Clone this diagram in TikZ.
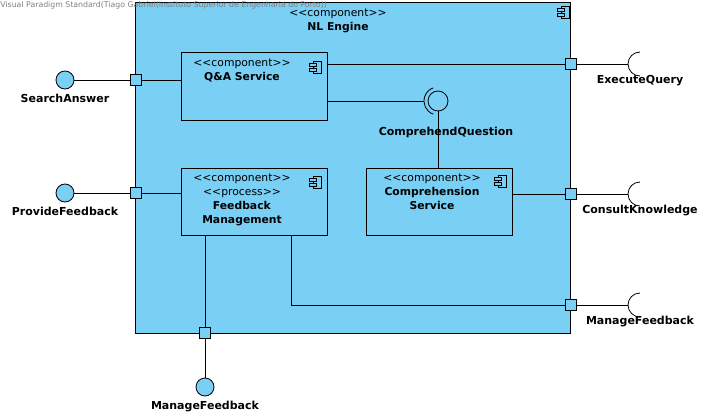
\documentclass[tikz,border=0pt]{standalone}
\usepackage{fontspec}
\setmainfont{DejaVu Sans}
\usetikzlibrary{positioning}
\definecolor{vpblue}{HTML}{7ACFF5}
\newcommand{\stereo}[1]{<{}<#1>{}>}

\begin{document}
\begin{tikzpicture}
  [
  x=1pt, y=-1pt,
  font=\fontsize{10.8}{14}\selectfont, line width=0.8pt, draw=black,
  compbox/.style={rectangle, draw=black, fill=vpblue, inner sep=0pt},
  portnode/.style={rectangle, draw=black, fill=vpblue, inner sep=0pt, minimum size=11pt},
  ballnode/.style={circle, draw=black, fill=vpblue, inner sep=0pt, minimum size=18pt},
  boxtext/.style={align=center, inner sep=0pt, anchor=north},
  ifacelabel/.style={font=\fontsize{11}{12}\selectfont\bfseries, inner sep=0pt},
  compicon/.pic={
    \draw[fill=vpblue, line width=0.6pt] (-3,-6) rectangle (5,6);
    \draw[fill=vpblue, line width=0.6pt] (-7,-4) rectangle (0,-1);
    \draw[fill=vpblue, line width=0.6pt] (-7,1) rectangle (0,4);
  },
  ]
  \useasboundingbox (0,0) rectangle (713,415);

  % NL Engine
  \node[compbox, minimum width=435pt, minimum height=331pt] (engine) at (352.5,167.5) {};
  \pic at (564,12) {compicon};
  \node[boxtext] (enginetxt) at (338,9) {\stereo{component}\\\textbf{NL Engine}};

  % inner components
  \node[compbox, minimum width=146pt, minimum height=68pt] (qa) at (254,86) {};
  \pic at (316,67) {compicon};
  \node[boxtext] (qatxt) at (242,59) {\stereo{component}\\\textbf{Q\&A Service}};

  \node[compbox, minimum width=146pt, minimum height=67pt] (fb) at (254,201.5) {};
  \pic at (316,182) {compicon};
  \node[boxtext] (fbtxt) at (242,174) {\stereo{component}\\\stereo{process}\\\textbf{Feedback}\\\textbf{Management}};

  \node[compbox, minimum width=146pt, minimum height=67pt] (cs) at (439,201.5) {};
  \pic at (501,181) {compicon};
  \node[boxtext] (cstxt) at (432,174) {\stereo{component}\\\textbf{Comprehension}\\\textbf{Service}};

  % assembly Q&A -> Comprehension
  \node[circle, draw=black, inner sep=0pt, minimum size=20pt] (cq) at (438,101) {};
  \draw ([shift={(110:14)}]cq.center) arc (110:250:14);
  \coordinate (cqs) at (424,101);
  \draw (qa.east |- cqs) -- (cqs);
  \draw (cq.south) -- (cq.south |- cs.north);
  \node[ifacelabel] (cqlabel) at (446,132) {ComprehendQuestion};

  % ports
  \node[portnode] (pSA) at (136,80) {};
  \node[portnode] (pPF) at (136,193) {};
  \node[portnode] (pEQ) at (571,64) {};
  \node[portnode] (pCK) at (571,194) {};
  \node[portnode] (pMFr) at (571,305) {};
  \node[portnode] (pMFb) at (205,333) {};

  \draw (pSA) -- (qa.west |- pSA);
  \draw (pPF) -- (fb.west |- pPF);
  \draw (qa.east |- pEQ) -- (pEQ);
  \draw (cs.east |- pCK) -- (pCK);
  \draw (fb.south -| pMFb) -- (pMFb);
  \coordinate (bend) at (291,305);
  \draw (fb.south -| bend) -- (bend) -- (pMFr);

  % provided interfaces
  \node[ballnode] (bSA) at (65,80) {};
  \node[ballnode] (bPF) at (65,193) {};
  \node[ballnode] (bMF) at (205,387) {};
  \draw (bSA) -- (pSA);
  \draw (bPF) -- (pPF);
  \draw (pMFb) -- (bMF);
  \node[ifacelabel, below=4pt of bSA] (lSA) {SearchAnswer};
  \node[ifacelabel, below=4pt of bPF] (lPF) {ProvideFeedback};
  \node[ifacelabel, below=4pt of bMF] (lMFb) {ManageFeedback};

  % required interfaces
  \coordinate (sEQ) at (628,64);
  \coordinate (sCK) at (628,194);
  \coordinate (sMF) at (628,305);
  \draw (pEQ) -- (sEQ);
  \draw (pCK) -- (sCK);
  \draw (pMFr) -- (sMF);
  \draw (sEQ) ++(12,12) arc (90:270:12);
  \draw (sCK) ++(12,12) arc (90:270:12);
  \draw (sMF) ++(12,12) arc (90:270:12);
  \node[ifacelabel] (lEQ) at (640,81) {ExecuteQuery};
  \node[ifacelabel] (lCK) at (640,211) {ConsultKnowledge};
  \node[ifacelabel] (lMFr) at (640,322) {ManageFeedback};

  \node[anchor=west, inner sep=0pt, text=gray, font=\fontsize{7.8}{8}\selectfont] (vpmark) at (0,5) {Visual Paradigm Standard(Tiago Gabriel(Instituto Superior de Engenharia do Porto))};
\end{tikzpicture}
\end{document}
